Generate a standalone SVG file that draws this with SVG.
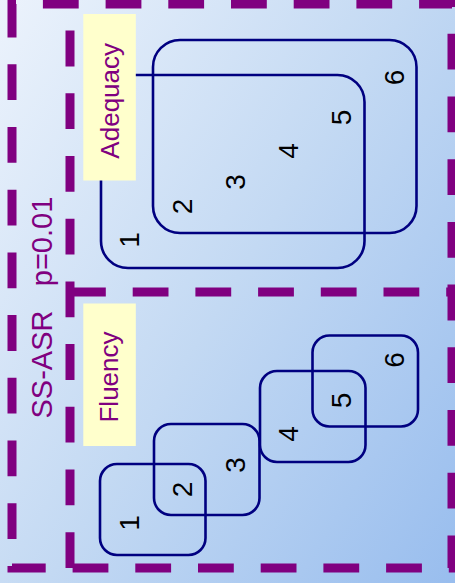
<svg xmlns="http://www.w3.org/2000/svg" width="455" height="583" viewBox="0 0 455 583">
  <defs>
    <linearGradient id="bg" gradientUnits="userSpaceOnUse" x1="0" y1="0" x2="591" y2="369">
      <stop offset="0" stop-color="#ecf3fc"/>
      <stop offset="0.5" stop-color="#c3d9f3"/>
      <stop offset="1" stop-color="#98bdee"/>
    </linearGradient>
    <style>
      .dash { fill: none; stroke: #800080; stroke-width: 9; stroke-dasharray: 35.8 26.9; }
      .set { fill: none; stroke: #000080; stroke-width: 2.6; }
      .num { font-family: "Liberation Sans", Arial, sans-serif; font-size: 28px; fill: #000; text-anchor: middle; }
      .tag { fill: #ffffcc; }
      .tagtext { font-family: "Liberation Sans", Arial, sans-serif; font-size: 26px; fill: #800080; text-anchor: middle; }
      .title { font-family: "Liberation Sans", Arial, sans-serif; font-size: 29px; fill: #800080; text-anchor: middle; }
    </style>
  </defs>

  <!-- backdrop -->
  <rect x="0" y="0" width="455" height="583" fill="url(#bg)"/>

  <!-- Adequacy panel -->
  <g id="adequacy">
    <g id="adequacy-set-a"><rect class="set" x="101" y="75" width="263.5" height="193" rx="27"/></g>
    <g id="adequacy-set-b"><rect class="set" x="153" y="40" width="263.5" height="193" rx="27"/></g>
    <g id="adequacy-items">
      <text class="num" transform="translate(138.5,240) rotate(-90)">1</text>
      <text class="num" transform="translate(191.5,206.5) rotate(-90)">2</text>
      <text class="num" transform="translate(244.5,182) rotate(-90)">3</text>
      <text class="num" transform="translate(297.5,151) rotate(-90)">4</text>
      <text class="num" transform="translate(350.5,117.5) rotate(-90)">5</text>
      <text class="num" transform="translate(403.5,77.5) rotate(-90)">6</text>
    </g>
    <g id="adequacy-label">
      <rect class="tag" x="83.3" y="14" width="52.5" height="166.5"/>
      <text class="tagtext" transform="translate(118.5,100.8) rotate(-90)">Adequacy</text>
    </g>
  </g>

  <!-- Fluency panel -->
  <g id="fluency">
    <g id="fluency-set-a"><rect class="set" x="100" y="464" width="105.5" height="91" rx="17"/></g>
    <g id="fluency-set-b"><rect class="set" x="154" y="424" width="105.5" height="91" rx="17"/></g>
    <g id="fluency-set-c"><rect class="set" x="260" y="371" width="105.5" height="91" rx="17"/></g>
    <g id="fluency-set-d"><rect class="set" x="312.5" y="335.5" width="105.5" height="91" rx="17"/></g>
    <g id="fluency-items">
      <text class="num" transform="translate(138.5,523) rotate(-90)">1</text>
      <text class="num" transform="translate(191.5,489.5) rotate(-90)">2</text>
      <text class="num" transform="translate(244.5,465) rotate(-90)">3</text>
      <text class="num" transform="translate(297.5,434) rotate(-90)">4</text>
      <text class="num" transform="translate(350.5,400.5) rotate(-90)">5</text>
      <text class="num" transform="translate(403.5,360) rotate(-90)">6</text>
    </g>
    <g id="fluency-label">
      <rect class="tag" x="83.3" y="303.5" width="52.5" height="142.5"/>
      <text class="tagtext" transform="translate(118,377) rotate(-90)">Fluency</text>
    </g>
  </g>

  <!-- dashed frames: whole condition, and the split into two panels -->
  <g id="frame">
    <rect class="dash" x="12" y="4" width="440" height="564" stroke-dashoffset="31.8"/>
    <line class="dash" x1="70" y1="568" x2="70" y2="4"/>
    <line class="dash" x1="70" y1="292" x2="452" y2="292"/>
  </g>

  <!-- condition caption -->
  <g id="caption">
    <text class="title" transform="translate(51.5,364.5) rotate(-90)">SS-ASR</text>
    <text class="title" transform="translate(51.5,241.5) rotate(-90)">p=0.01</text>
  </g>
</svg>
